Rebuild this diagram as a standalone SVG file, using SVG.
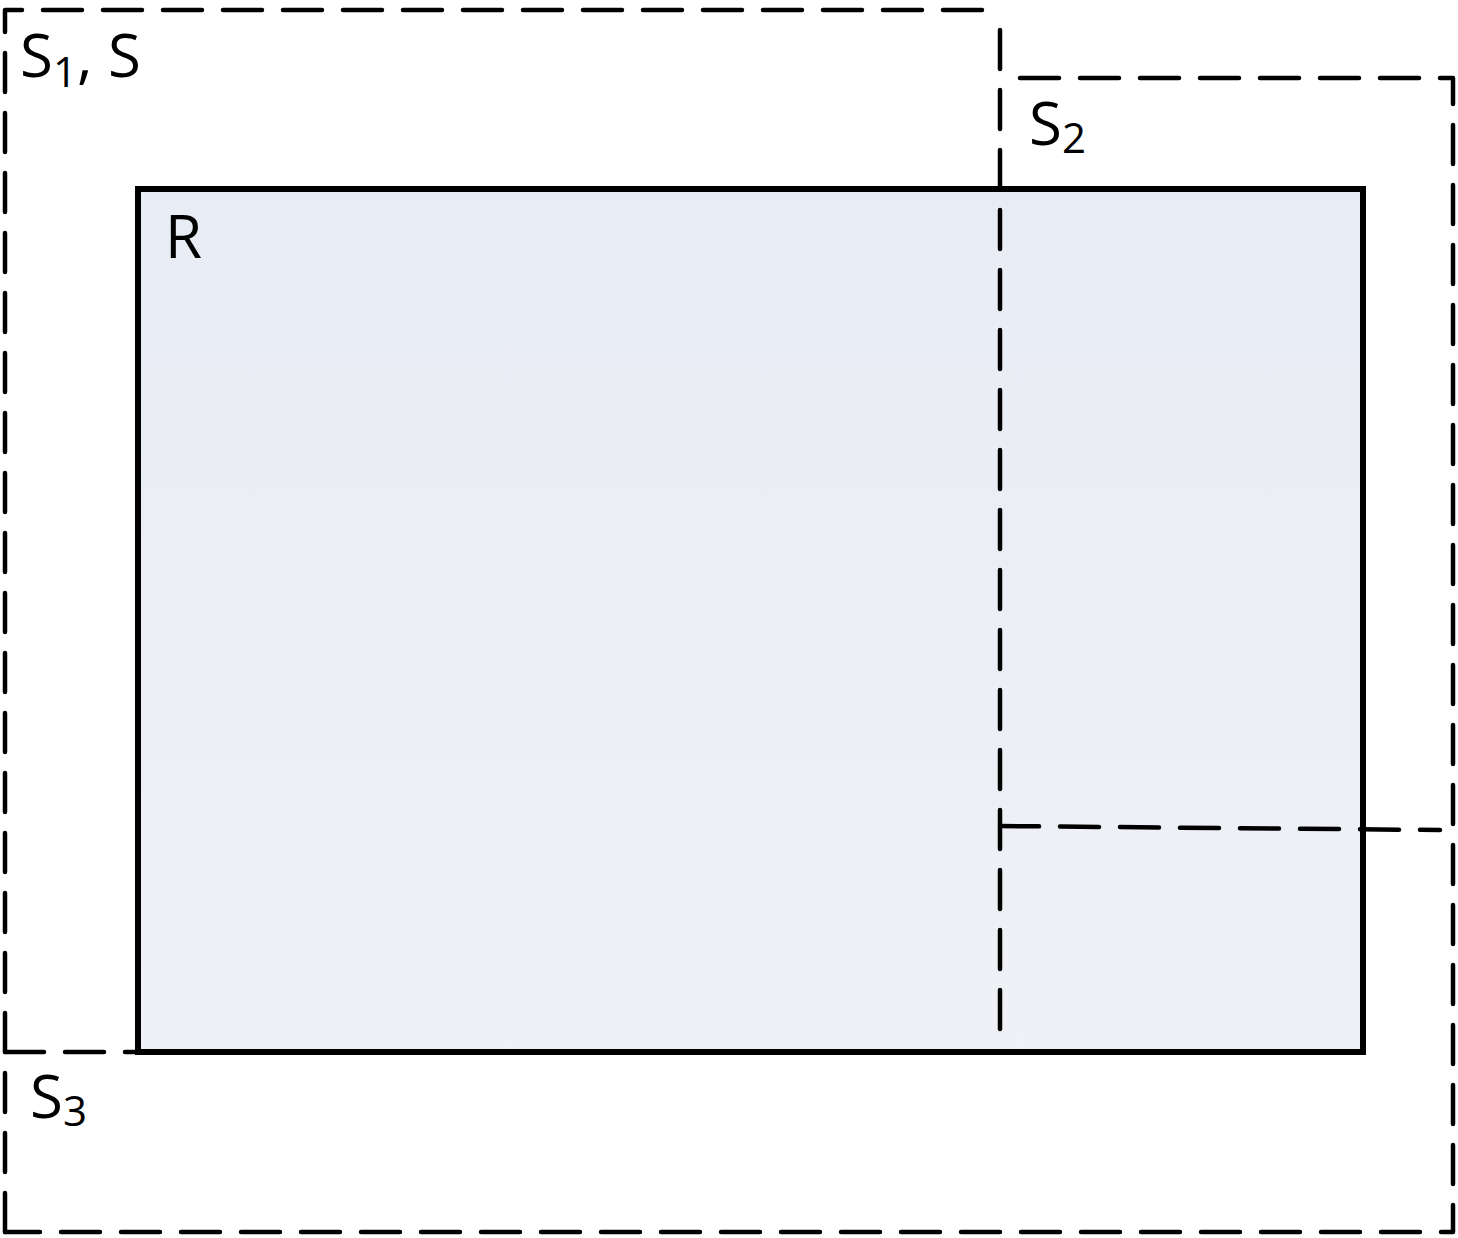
<svg xmlns="http://www.w3.org/2000/svg" width="1458" height="1238" viewBox="0 0 1458 1238">
<defs>
<linearGradient id="rfill" x1="0" y1="0" x2="0" y2="1">
<stop offset="0" stop-color="#E8ECF4"/>
<stop offset="1" stop-color="#EFF1F6"/>
</linearGradient>
<style>
.dash{fill:none;stroke:#000;stroke-width:4.5;stroke-dasharray:39 21;stroke-linecap:round;stroke-linejoin:round}
.lbl{font-family:"Open Sans","Liberation Sans",sans-serif;font-size:60px;fill:#000}
.sub{font-size:42px}
</style>
</defs>
<g id="R">
<rect x="138" y="189" width="1225" height="863" fill="url(#rfill)" stroke="#000" stroke-width="6"/>
<text class="lbl" x="165" y="258">R</text>
</g>
<g id="connectors">
<path class="dash" d="M5,1232 L5,10 L998,10"/>
<path class="dash" d="M1000,30 L1000,1033"/>
<path class="dash" d="M1020,78 L1453,78 L1453,1232 L5,1232"/>
<path class="dash" d="M1000,826 L1440,830"/>
<path class="dash" d="M5,1052 L136,1052"/>
</g>
<g id="S1">
<text class="lbl" x="20" y="77">S<tspan class="sub" dy="10">1</tspan><tspan dy="-10">, S</tspan></text>
</g>
<g id="S2">
<text class="lbl" x="1029" y="145">S<tspan class="sub" dy="8">2</tspan></text>
</g>
<g id="S3">
<text class="lbl" x="30" y="1118">S<tspan class="sub" dy="8">3</tspan></text>
</g>
</svg>
